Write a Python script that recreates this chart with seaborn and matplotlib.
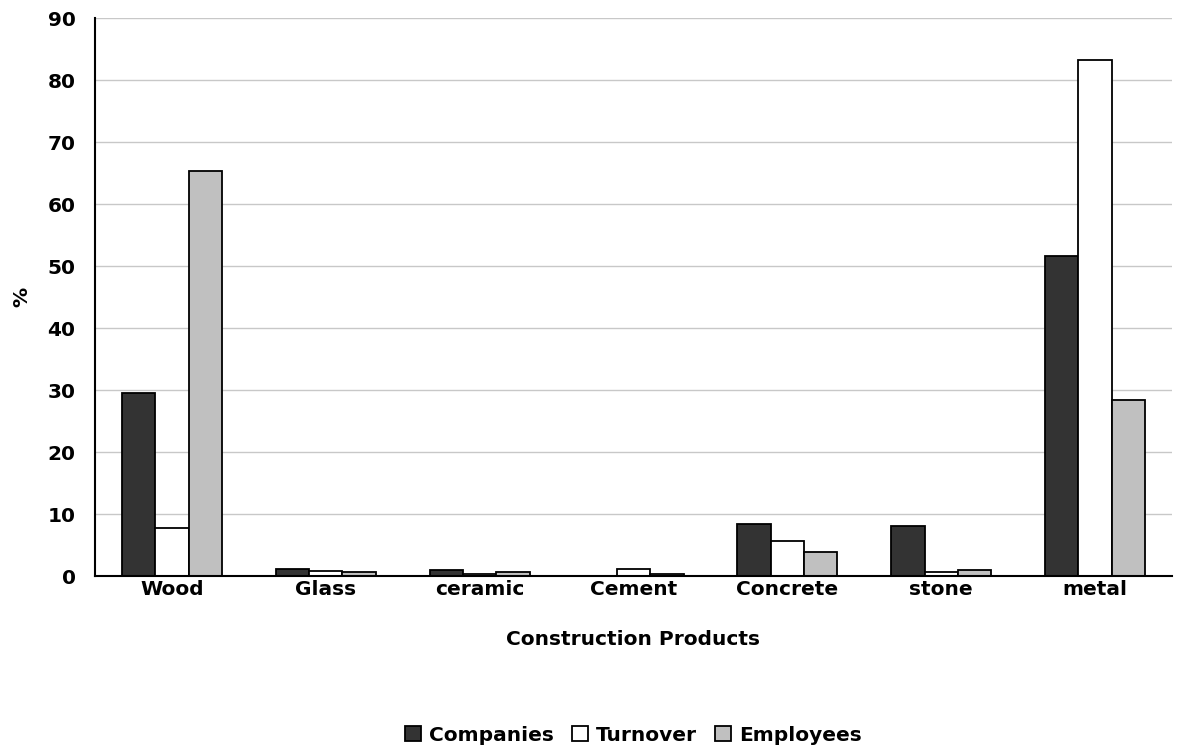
import matplotlib
matplotlib.use("Agg")
import matplotlib.pyplot as plt
import seaborn as sns
import pandas as pd
import numpy as np

categories = ["Wood", "Glass", "ceramic", "Cement", "Concrete", "stone", "metal"]
series = ["Companies", "Turnover", "Employees"]
companies = [29.5, 1.2, 0.9, 0.0, 8.4, 8.1, 51.6]
turnover = [7.7, 0.85, 0.3, 1.2, 5.6, 0.6, 83.3]
employees = [65.4, 0.6, 0.6, 0.3, 3.8, 0.9, 28.4]
colors = ["#333333", "#ffffff", "#c0c0c0"]

df = pd.DataFrame({
    "category": categories * 3,
    "series": np.repeat(series, len(categories)),
    "value": companies + turnover + employees,
})

sns.set_theme(style="white")
plt.rcParams["font.family"] = ["DejaVu Sans"]
plt.rcParams["font.weight"] = "bold"
for key in ["text.color", "axes.labelcolor", "xtick.color", "ytick.color"]:
    plt.rcParams[key] = "black"

FS = 14.5

fig = plt.figure(figsize=(11.88, 7.48), dpi=100)
ax = fig.add_axes([95 / 1188, 1 - 576 / 748, (1172 - 95) / 1188, (576 - 18) / 748])

sns.barplot(data=df, x="category", y="value", hue="series", order=categories,
            hue_order=series, palette=colors, edgecolor="black", linewidth=1.3,
            width=0.65, saturation=1, ax=ax, legend=True)

ax.set_ylim(0, 90)
ax.set_xlim(-0.5, len(categories) - 0.5)
ax.set_yticks(range(0, 91, 10))
ax.yaxis.grid(True, color="#c8c8c8", linewidth=1)
ax.set_axisbelow(True)

for s in ["top", "right"]:
    ax.spines[s].set_visible(False)
for s in ["left", "bottom"]:
    ax.spines[s].set_color("black")
    ax.spines[s].set_linewidth(1.5)

# ticks on the x axis sit between categories
ax.set_xticks(np.arange(-0.5, len(categories), 1.0), minor=True)
ax.tick_params(axis="x", which="major", length=0, pad=3, labelsize=FS)
ax.tick_params(axis="x", which="minor", length=7, width=1, color="black", direction="out")
ax.tick_params(axis="y", length=6, width=1, color="black", direction="out", labelsize=FS, pad=8)
for lbl in ax.get_xticklabels() + ax.get_yticklabels():
    lbl.set_fontweight("bold")

ax.set_xlabel("Construction Products", fontsize=FS, fontweight="bold", labelpad=22)
ax.set_ylabel("%", fontsize=FS, fontweight="bold", labelpad=12)

handles, labels = ax.get_legend_handles_labels()
ax.legend(handles, labels, loc="center", bbox_to_anchor=(0.5, -0.285), ncol=3,
          frameon=False, handlelength=0.8, handleheight=0.8,
          handletextpad=0.4, columnspacing=0.9, prop={"weight": "bold", "size": FS})

fig.savefig("out.png", dpi=100)
